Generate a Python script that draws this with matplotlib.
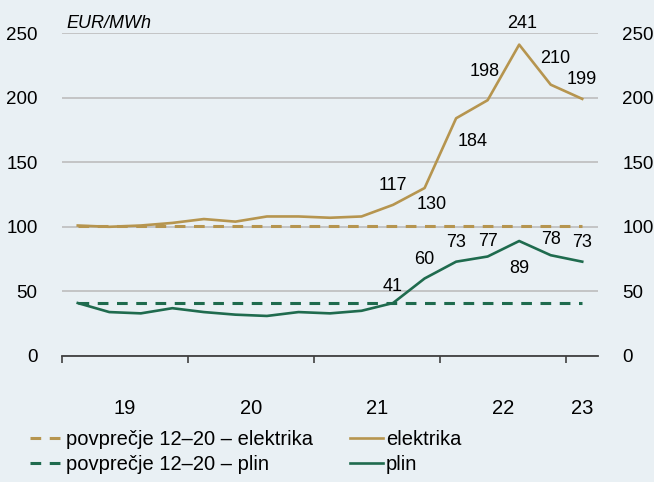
import numpy as np
import matplotlib
matplotlib.use("Agg")
import matplotlib.pyplot as plt

plt.rcParams['font.family'] = ['Liberation Sans Narrow', 'Liberation Sans', 'DejaVu Sans']

# quarterly data 2019Q1 .. 2023Q1
years = ['19', '20', '21', '22', '23']
elektrika = [101, 100, 101, 103, 106, 104, 108, 108, 107, 108, 117, 130, 184, 198, 241, 210, 199]
plin = [41, 34, 33, 37, 34, 32, 31, 34, 33, 35, 41, 60, 73, 77, 89, 78, 73]
avg_elektrika = 101
avg_plin = 41

el_labels = {10: (0, 14), 11: (5, -12), 12: (12, -17), 13: (-2, 21), 14: (2, 15), 15: (3, 19), 16: (0, 14)}
plin_labels = {10: (0, 12), 11: (0, 14), 12: (0, 14), 13: (0, 11), 14: (0, -20), 15: (0, 11), 16: (0, 14)}

BG = '#E9F0F4'
GOLD = '#B6954F'
GREEN = '#1F6B4E'

fig = plt.figure(figsize=(6.54, 4.82), dpi=100, facecolor=BG)
ax = fig.add_axes([62 / 654, 1 - 356 / 482, 536 / 654, 323 / 482])
ax.set_facecolor(BG)

x = np.arange(len(elektrika))

ax.plot([x[0], x[-1]], [avg_elektrika] * 2, color=GOLD, lw=2.2, dashes=(3.5, 2.8),
        label='povprečje 12–20 – elektrika', zorder=3)
ax.plot([x[0], x[-1]], [avg_plin] * 2, color=GREEN, lw=2.2, dashes=(3.5, 2.8),
        label='povprečje 12–20 – plin', zorder=3)
ax.plot(x, elektrika, color=GOLD, lw=1.9, label='elektrika', zorder=4)
ax.plot(x, plin, color=GREEN, lw=1.9, label='plin', zorder=4)

for i, (dx, dy) in el_labels.items():
    ax.annotate(f'{elektrika[i]:.0f}', (x[i], elektrika[i]), xytext=(dx, dy),
                textcoords='offset points', ha='center', va='center', fontsize=13)
for i, (dx, dy) in plin_labels.items():
    ax.annotate(f'{plin[i]:.0f}', (x[i], plin[i]), xytext=(dx, dy),
                textcoords='offset points', ha='center', va='center', fontsize=13)

ax.set_xlim(-0.5, len(x) - 0.5)
ax.set_ylim(0, 250)
ax.set_yticks([0, 50, 100, 150, 200, 250])
ax.grid(axis='y', color='#BDBDBD', lw=1.2)
ax.set_axisbelow(True)
ax.tick_params(axis='y', left=False, right=False, labelleft=True, labelright=True,
               labelsize=13.5, pad=14)

for s in ['top', 'left', 'right']:
    ax.spines[s].set_visible(False)
ax.spines['bottom'].set_color('#404040')
ax.spines['bottom'].set_linewidth(1.3)

bounds = [-0.5, 3.5, 7.5, 11.5, 15.5]
centers = [1.5, 5.5, 9.5, 13.5, 16]
ax.set_xticks(bounds)
ax.set_xticklabels([])
ax.tick_params(axis='x', which='major', direction='out', length=5, width=1.2, color='#404040')
ax.set_xticks(centers, minor=True)
ax.set_xticklabels(years, minor=True)
ax.tick_params(axis='x', which='minor', length=0, labelsize=14.5, pad=31)

ax.text(0.009, 1.03, 'EUR/MWh', transform=ax.transAxes, fontsize=13, style='italic',
        ha='left', va='center')

fig.legend(loc='upper left', bbox_to_anchor=(30 / 654, 1 - 430 / 482), ncols=2, frameon=False,
           fontsize=14.5, handlelength=1.65, handletextpad=0.15, columnspacing=1.8,
           labelspacing=0.3, borderaxespad=0, borderpad=0)

fig.savefig('out.png', dpi=100, facecolor=BG)
